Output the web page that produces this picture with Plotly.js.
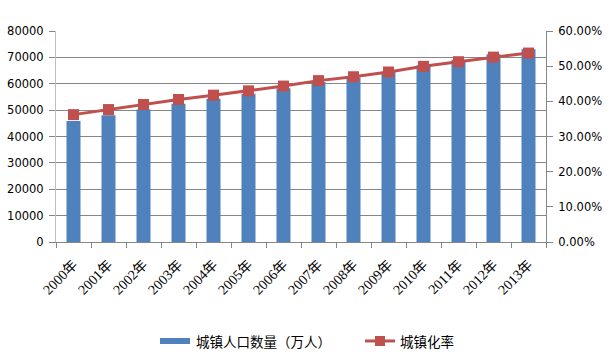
<!DOCTYPE html>
<html><head><meta charset="utf-8">
<script src="https://cdn.plot.ly/plotly-3.0.1.min.js"></script>
<style>body{margin:0;background:#fff}#c{width:610px;height:359px}</style>
</head><body><div id="c"></div>
<script>
const years = ["2000年","2001年","2002年","2003年","2004年","2005年","2006年","2007年","2008年","2009年","2010年","2011年","2012年","2013年"];
const urbanPop = [45906,48064,50212,52376,54283,56212,58288,60633,62403,64512,66978,69079,71182,73111];
const urbanRate = [36.22,37.66,39.09,40.53,41.76,42.99,44.34,45.89,46.99,48.34,49.95,51.27,52.57,53.73];
const popName = "城镇人口数量（万人）";
const rateName = "城镇化率";

const blue = '#4F81BD', red = '#C0504D';
const traces = [
  {type:'bar', x:years, y:urbanPop, name:popName, marker:{color:blue}, width:0.4, hoverinfo:'y', showlegend:false},
  {type:'scatter', mode:'lines+markers', x:years, y:urbanRate, name:rateName, yaxis:'y2', showlegend:false,
   line:{color:red, width:3}, marker:{symbol:'square', size:11, color:red}}
];
const legFont = {family:'"Noto Sans CJK SC", sans-serif', size:13.5, color:'#000'};
const layout = {
  width:610, height:359,
  margin:{l:56, r:64, t:31, b:117},
  paper_bgcolor:'#fff', plot_bgcolor:'#fff',
  showlegend:false,
  xaxis:{type:'category', range:[-0.5, years.length-0.5], automargin:false, showline:true, linecolor:'#868686', linewidth:1, ticks:'outside', ticklen:5, tickcolor:'#868686',
         tickson:'boundaries', showgrid:false, tickangle:-45, ticklabelstandoff:8,
         tickfont:{family:'"Liberation Serif", "Noto Sans CJK SC", serif', size:14, color:'#000'}},
  yaxis:{range:[0,80000], dtick:10000, tick0:0, automargin:false, showline:true, linecolor:'#BFBFBF', ticks:'outside', ticklen:6, tickcolor:'#868686',
         showgrid:true, gridcolor:'#868686', gridwidth:1, zeroline:false, tickformat:'d', ticklabelstandoff:3,
         tickfont:{family:'"DejaVu Sans", sans-serif', size:11.5, color:'#000'}},
  yaxis2:{range:[0,60], dtick:10, tick0:0, overlaying:'y', side:'right', automargin:false, showline:true, linecolor:'#868686',
          ticks:'outside', ticklen:6, tickcolor:'#868686', showgrid:false, zeroline:false, ticklabelstandoff:3,
          tickformat:'.2f', ticksuffix:'%',
          tickfont:{family:'"DejaVu Sans", sans-serif', size:11.5, color:'#000'}},
  shapes:[
    {type:'rect', xref:'paper', yref:'paper', x0:0.2122, x1:0.2735, y0:-0.4834, y1:-0.455, fillcolor:blue, line:{width:0}},
    {type:'line', xref:'paper', yref:'paper', x0:0.6306, x1:0.6918, y0:-0.469, y1:-0.469, line:{color:red, width:3}},
    {type:'rect', xref:'paper', yref:'paper', x0:0.651, x1:0.6714, y0:-0.4929, y1:-0.4455, fillcolor:red, line:{width:0}}
  ],
  annotations:[
    {xref:'paper', yref:'paper', x:0.2816, y:-0.469, xanchor:'left', yanchor:'middle', text:popName, showarrow:false, font:legFont},
    {xref:'paper', yref:'paper', x:0.698, y:-0.469, xanchor:'left', yanchor:'middle', text:rateName, showarrow:false, font:legFont}
  ]
};
Plotly.newPlot('c', traces, layout, {staticPlot:true, displayModeBar:false});
</script></body></html>
